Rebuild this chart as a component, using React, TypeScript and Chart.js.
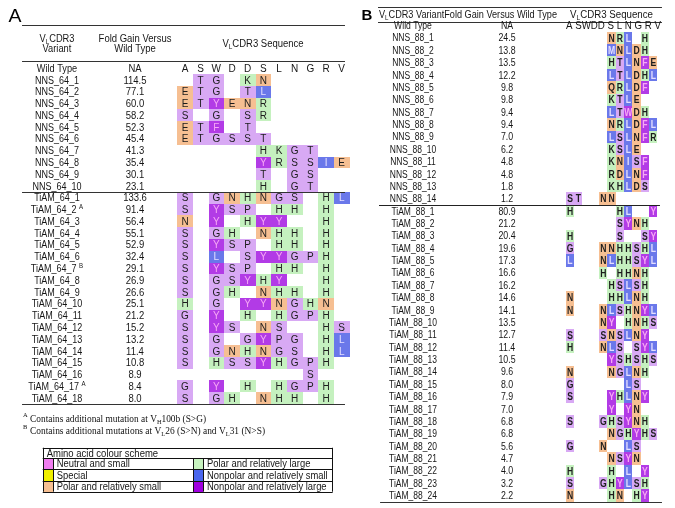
import React, { useEffect, useRef } from 'react';
import { Chart, registerables } from 'chart.js';

Chart.register(...registerables);

// ---------------- DATA ----------------
const positions = ['A', 'S', 'W', 'D', 'D', 'S', 'L', 'N', 'G', 'R', 'V'];

const variantsA = [
  'NNS_64_1', 'NNS_64_2', 'NNS_64_3', 'NNS_64_4', 'NNS_64_5', 'NNS_64_6', 'NNS_64_7', 'NNS_64_8', 'NNS_64_9', 'NNS_64_10',
  'TiAM_64_1', 'TiAM_64_2', 'TiAM_64_3', 'TiAM_64_4', 'TiAM_64_5', 'TiAM_64_6', 'TiAM_64_7', 'TiAM_64_8', 'TiAM_64_9',
  'TiAM_64_10', 'TiAM_64_11', 'TiAM_64_12', 'TiAM_64_13', 'TiAM_64_14', 'TiAM_64_15', 'TiAM_64_16', 'TiAM_64_17', 'TiAM_64_18',
];
const notesA = ['', '', '', '', '', '', '', '', '', '', '', 'A', '', '', '', '', 'B', '', '', '', '', '', '', '', '', '', 'A', ''];
const foldA = [114.5, 77.1, 60.0, 58.2, 52.3, 45.4, 41.3, 35.4, 30.1, 23.1,
  133.6, 91.4, 56.4, 55.1, 52.9, 32.4, 29.1, 26.9, 26.6, 25.1, 21.2, 15.2, 13.2, 11.4, 10.8, 8.9, 8.4, 8.0];
const seqA = [
  '.TG.KN.....', 'ETG.TL.....', 'ETYENR.....', 'S.G.SR.....', 'ETF.T......', 'ETGSST.....',
  '.....HKGT..', '.....YRSSIE', '.....T.GS..', '.....H.GT..',
  'S.GNHNGS.HL', 'S.YSP.HH.H.', 'N.Y.HYY..H.', 'S.GH.NHH.H.', 'S.YSP.HH.H.', 'S.L.SYYGPH.',
  'S.YSP.HH.H.', 'S.GSYHY..H.', 'S.GH.NHH.H.', 'H.G.YYNGHN.', 'G.Y.H.HGPH.', 'S.YS.NS..HS',
  'S.G.GYPG.HL', 'S.GNHNGS.HL', 'S.HSSYHGPH.', '........S..', 'G.Y.H.HGPH.', 'S.GH.NHH.H.',
];

const variantsB = [
  'NNS_88_1', 'NNS_88_2', 'NNS_88_3', 'NNS_88_4', 'NNS_88_5', 'NNS_88_6', 'NNS_88_7', 'NNS_88_8', 'NNS_88_9',
  'NNS_88_10', 'NNS_88_11', 'NNS_88_12', 'NNS_88_13', 'NNS_88_14',
  'TiAM_88_1', 'TiAM_88_2', 'TiAM_88_3', 'TiAM_88_4', 'TiAM_88_5', 'TiAM_88_6', 'TiAM_88_7', 'TiAM_88_8',
  'TiAM_88_9', 'TiAM_88_10', 'TiAM_88_11', 'TiAM_88_12', 'TiAM_88_13', 'TiAM_88_14', 'TiAM_88_15', 'TiAM_88_16',
  'TiAM_88_17', 'TiAM_88_18', 'TiAM_88_19', 'TiAM_88_20', 'TiAM_88_21', 'TiAM_88_22', 'TiAM_88_23', 'TiAM_88_24',
];
const foldB = [24.5, 13.8, 13.5, 12.2, 9.8, 9.8, 9.4, 9.4, 7.0, 6.2, 4.8, 4.8, 1.8, 1.2,
  80.9, 21.2, 20.4, 19.6, 17.3, 16.6, 16.2, 14.6, 14.1, 13.5, 12.7, 11.4, 10.5, 9.6, 8.0, 7.9, 7.0, 6.8, 6.8,
  5.6, 4.7, 4.0, 3.2, 2.2];
const seqB = [
  '.....NRL.H.', '.....MNLDH.', '.....HTLNFE', '.....LTLDHL', '.....QRLDF.', '.....KTLE..', '.....LTWDH.',
  '.....NRLDFL', '.....LSLNFR', '.....KSLE..', '.....KNISF.', '.....RDLNF.', '.....KHLDS.', 'ST..NN.....',
  'H.....HL..Y', '......SYNH.', 'H.....S..SY', 'G...NNHHSHL', 'L...NLHHSYL', '....H.HHNH.', '.....HSLSH.',
  'N....HHLNH.', 'N...NLSHNYL', '....NY.HNHS', 'S...SNSLNY.', 'H...NLS.SYL', '.....YSHSHS', 'N....NGLNH.',
  'G......LS..', 'S....YHLNY.', '.....Y.YN..', 'S...GHSYNH.', '.....NGHYHS', 'G...N..LS..', '.....NSYN..',
  'H....H.L.Y.', 'S...GHYLSH.', 'N....HN.HY.',
];

const legendLabels = [
  'Neutral and small', 'Polar and relatively large',
  'Special', 'Nonpolar and relatively small',
  'Polar and relatively small', 'Nonpolar and relatively large',
];

// ---------------- STYLE ----------------
const SANS = '"Liberation Sans", Arial, sans-serif';
const SERIF = '"Liberation Serif", "Times New Roman", serif';
const GROUP: Record<string, string> = {
  S: 'lilac', T: 'lilac', G: 'lilac', P: 'lilac',
  N: 'orange', E: 'orange', D: 'orange', Q: 'orange',
  H: 'green', K: 'green', R: 'green',
  L: 'blue', I: 'blue', M: 'blue',
  Y: 'purple', F: 'purple', W: 'purple',
};
const FILL: Record<string, string> = {
  lilac: '#D8A9F4', orange: '#F6BF92', green: '#C5F1BF', blue: '#6A78EA', purple: '#B23BE6',
};
const INK: Record<string, string> = {
  lilac: '#1c1c1c', orange: '#1c1c1c', green: '#1c1c1c', blue: '#E4DEFF', purple: '#F7A8F5',
};
const legendSwatches = ['#F07DF0', '#C8F4C0', '#F0F000', '#4A66EE', '#F6BF92', '#A000E0'];

// layout, in each panel's scale units (columns / rows)
const A = {
  label: [-10.85, -4.43], topY: -3.67, lineX: [-10.4, 10.21], hdr1: -2.56, hdr2: -1.69, seqHdrY: -2.11,
  hdrLineY: -0.61, nameX: -8.17, foldX: -3.19, seqHdrX: 4.98, sepY: 10.5, botY: 28.5,
  fnSupX: -10.34, fnX: -9.89, fn1: 29.69, fn2: 30.71,
  lg: { x0: -9.08, sw1: -8.44, t1: -8.19, x2: 0.49, sw2: 1.17, t2: 1.4, x1: 9.36, ys: [32.22, 33.12, 34.06, 35.0, 35.95] },
};
const B = {
  label: [-24.37, -0.9], topY: -1.5, lineX: [-23.05, 11.04], hdrY: -0.9, hdr1X: [-22.93, -1.56], hdr2X: [0, 9.96],
  hdrLineY: -0.31, nameX: -18.85, foldX: -7.56, wtX: [-0.48, 10.92], sepY: 14.5, sepX: [-22.93, 10.8],
  botY: 38.5, botX: [-22.8, 11.04],
};

type Seg = { t: string; sub?: boolean; sup?: boolean };
type TOpt = { size: number; family?: string; weight?: string; color?: string; align?: 'left' | 'center' | 'right'; sx?: number; width?: number };

function rich(ctx: CanvasRenderingContext2D, segs: Seg[], x: number, yc: number, o: TOpt) {
  const fam = o.family || SANS;
  const fontFor = (s: Seg) => `${o.weight || 'normal'} ${s.sub || s.sup ? o.size * 0.68 : o.size}px ${fam}`;
  ctx.save();
  let nat = 0;
  const ws = segs.map((s) => { ctx.font = fontFor(s); const w = ctx.measureText(s.t).width; nat += w; return w; });
  const sx = o.width ? o.width / nat : (o.sx ?? 1);
  const total = nat * sx;
  let x0 = o.align === 'center' ? x - total / 2 : o.align === 'right' ? x - total : x;
  const base = yc + o.size * 0.36;
  ctx.fillStyle = o.color || '#161616';
  ctx.textAlign = 'left';
  ctx.textBaseline = 'alphabetic';
  segs.forEach((s, i) => {
    ctx.font = fontFor(s);
    const dy = s.sub ? o.size * 0.25 : s.sup ? -o.size * 0.4 : 0;
    ctx.save();
    ctx.translate(x0, base + dy);
    ctx.scale(sx, 1);
    ctx.fillText(s.t, 0, 0);
    ctx.restore();
    x0 += ws[i] * sx;
  });
  ctx.restore();
}
const txt = (ctx: CanvasRenderingContext2D, t: string, x: number, y: number, o: TOpt) => rich(ctx, [{ t }], x, y, o);

function hline(ctx: CanvasRenderingContext2D, x0: number, x1: number, y: number, w = 1, c = '#222') {
  ctx.save();
  ctx.strokeStyle = c;
  ctx.lineWidth = w;
  const yy = Math.round(y) + (w % 2 ? 0.5 : 0);
  ctx.beginPath(); ctx.moveTo(x0, yy); ctx.lineTo(x1, yy); ctx.stroke();
  ctx.restore();
}
function vline(ctx: CanvasRenderingContext2D, x: number, y0: number, y1: number, c = '#222') {
  ctx.save();
  ctx.strokeStyle = c; ctx.lineWidth = 1;
  const xx = Math.round(x) + 0.5;
  ctx.beginPath(); ctx.moveTo(xx, y0); ctx.lineTo(xx, y1); ctx.stroke();
  ctx.restore();
}

function drawCells(ctx: CanvasRenderingContext2D, xs: any, ys: any, cells: any[], font: TOpt) {
  cells.forEach((c) => {
    const g = GROUP[c.aa] || 'lilac';
    const x0 = Math.round(xs.getPixelForValue(c.x - 0.5));
    const x1 = Math.round(xs.getPixelForValue(c.x + 0.5));
    const y0 = Math.round(ys.getPixelForValue(c.y - 0.5));
    const y1 = Math.round(ys.getPixelForValue(c.y + 0.5));
    ctx.fillStyle = FILL[g];
    ctx.fillRect(x0, y0, x1 - x0, y1 - y0);
  });
  cells.forEach((c) => {
    const g = GROUP[c.aa] || 'lilac';
    txt(ctx, c.aa, xs.getPixelForValue(c.x), ys.getPixelForValue(c.y), { ...font, align: 'center', color: INK[g] });
  });
}

const VL: Seg[] = [{ t: 'V' }, { t: 'L', sub: true }, { t: 'CDR3' }];

function drawPanelA(ctx: CanvasRenderingContext2D, xs: any, ys: any, cells: any[]) {
  const X = (v: number) => xs.getPixelForValue(v);
  const Y = (v: number) => ys.getPixelForValue(v);
  txt(ctx, 'A', X(A.label[0]), Y(A.label[1]), { size: 18, align: 'center', color: '#000', sx: 1.08 });
  hline(ctx, X(A.lineX[0]), X(A.lineX[1]), Y(A.topY), 1, '#333');
  rich(ctx, VL, X(A.nameX), Y(A.hdr1), { size: 10, align: 'center', sx: 0.93 });
  txt(ctx, 'Variant', X(A.nameX), Y(A.hdr2), { size: 10, align: 'center', sx: 0.93 });
  txt(ctx, 'Fold Gain Versus', X(A.foldX), Y(A.hdr1), { size: 10, align: 'center', sx: 0.95 });
  txt(ctx, 'Wild Type', X(A.foldX), Y(A.hdr2), { size: 10, align: 'center', sx: 0.95 });
  rich(ctx, [...VL, { t: ' Sequence' }], X(A.seqHdrX), Y(A.seqHdrY), { size: 10, align: 'center', sx: 0.95 });
  hline(ctx, X(A.lineX[0]), X(A.lineX[1]), Y(A.hdrLineY), 1, '#333');

  drawCells(ctx, xs, ys, cells, { size: 10 });

  // wild type row
  txt(ctx, 'Wild Type', X(A.nameX), Y(0), { size: 10, align: 'center', sx: 0.92 });
  txt(ctx, 'NA', X(A.foldX), Y(0), { size: 10, align: 'center', sx: 0.95 });
  positions.forEach((p, i) => txt(ctx, p, X(i), Y(0), { size: 10, align: 'center' }));

  variantsA.forEach((n, i) => {
    const segs: Seg[] = notesA[i] ? [{ t: n + ' ' }, { t: notesA[i], sup: true }] : [{ t: n }];
    rich(ctx, segs, X(A.nameX), Y(i + 1), { size: 10, align: 'center', sx: 0.9 });
    txt(ctx, foldA[i].toFixed(1), X(A.foldX), Y(i + 1), { size: 10, align: 'center', sx: 0.95 });
  });
  hline(ctx, X(A.lineX[0]), X(A.lineX[1]), Y(A.sepY), 1, '#333');
  hline(ctx, X(A.lineX[0]), X(A.lineX[1]), Y(A.botY), 1, '#333');

  // footnotes
  const fo: TOpt = { size: 10, family: SERIF, color: '#111' };
  txt(ctx, 'A', X(A.fnSupX), Y(A.fn1) - 3, { ...fo, size: 6.5 });
  rich(ctx, [{ t: 'Contains additional mutation at V' }, { t: 'H', sub: true }, { t: '100b (S>G)' }], X(A.fnX), Y(A.fn1), { ...fo, width: 176 });
  txt(ctx, 'B', X(A.fnSupX), Y(A.fn2) - 3, { ...fo, size: 6.5 });
  rich(ctx, [{ t: 'Contains additional mutations at V' }, { t: 'L', sub: true }, { t: '26 (S>N) and V' }, { t: 'L', sub: true }, { t: '31 (N>S)' }], X(A.fnX), Y(A.fn2), { ...fo, width: 235 });

  // colour scheme legend
  const lg = A.lg;
  const ys5 = lg.ys.map(Y);
  const x0 = X(lg.x0), x1 = X(lg.x1);
  ctx.save();
  for (let r = 0; r < 3; r++) {
    const ya = Math.round(ys5[r + 1]), yb = Math.round(ys5[r + 2]);
    ctx.fillStyle = legendSwatches[r * 2];
    ctx.fillRect(Math.round(x0), ya, Math.round(X(lg.sw1)) - Math.round(x0), yb - ya);
    ctx.fillStyle = legendSwatches[r * 2 + 1];
    ctx.fillRect(Math.round(X(lg.x2)), ya, Math.round(X(lg.sw2)) - Math.round(X(lg.x2)), yb - ya);
  }
  ctx.restore();
  lg.ys.forEach((v) => hline(ctx, x0, x1 + 1, Y(v), 1, '#111'));
  vline(ctx, x0, ys5[0], ys5[4], '#111');
  vline(ctx, x1, ys5[0], ys5[4], '#111');
  [lg.sw1, lg.x2, lg.sw2].forEach((v) => vline(ctx, X(v), ys5[1], ys5[4], '#111'));
  txt(ctx, 'Amino acid colour scheme', X(lg.x0) + 4, (ys5[0] + ys5[1]) / 2, { size: 10, sx: 0.95 });
  for (let r = 0; r < 3; r++) {
    const yc = (ys5[r + 1] + ys5[r + 2]) / 2;
    txt(ctx, legendLabels[r * 2], X(lg.t1), yc, { size: 10, sx: 0.94 });
    txt(ctx, legendLabels[r * 2 + 1], X(lg.t2), yc, { size: 10, sx: 0.94 });
  }
}

function drawPanelB(ctx: CanvasRenderingContext2D, xs: any, ys: any, cells: any[]) {
  const X = (v: number) => xs.getPixelForValue(v);
  const Y = (v: number) => ys.getPixelForValue(v);
  txt(ctx, 'B', X(B.label[0]), Y(B.label[1]), { size: 15, weight: 'bold', align: 'center', color: '#000' });
  hline(ctx, X(B.lineX[0]), X(B.lineX[1]), Y(B.topY), 1, '#333');
  rich(ctx, [...VL, { t: ' VariantFold Gain Versus Wild Type' }], X(B.hdr1X[0]), Y(B.hdrY), { size: 10, width: X(B.hdr1X[1]) - X(B.hdr1X[0]) });
  rich(ctx, [...VL, { t: ' Sequence' }], X(B.hdr2X[0]), Y(B.hdrY), { size: 10, width: X(B.hdr2X[1]) - X(B.hdr2X[0]) });
  hline(ctx, X(B.lineX[0]), X(B.lineX[1]), Y(B.hdrLineY), 1, '#333');

  drawCells(ctx, xs, ys, cells, { size: 10.5, weight: 'bold', sx: 0.82 });

  txt(ctx, 'Wild Type', X(B.nameX), Y(0), { size: 10, align: 'center', sx: 0.86 });
  txt(ctx, 'NA', X(B.foldX), Y(0), { size: 10, align: 'center', sx: 0.88 });
  txt(ctx, 'A SWDD S L N G R V', X(B.wtX[0]), Y(0), { size: 10, width: X(B.wtX[1]) - X(B.wtX[0]) });

  variantsB.forEach((n, i) => {
    txt(ctx, n, X(B.nameX), Y(i + 1), { size: 10, align: 'center', sx: 0.85 });
    txt(ctx, foldB[i].toFixed(1), X(B.foldX), Y(i + 1), { size: 10, align: 'center', sx: 0.88 });
  });
  hline(ctx, X(B.sepX[0]), X(B.sepX[1]), Y(B.sepY), 1, '#222');
  hline(ctx, X(B.botX[0]), X(B.botX[1]), Y(B.botY), 1, '#333');
}

const toCells = (rows: string[]) => {
  const out: { x: number; y: number; aa: string }[] = [];
  rows.forEach((s, r) => s.split('').forEach((ch, c) => { if (ch !== '.') out.push({ x: c, y: r + 1, aa: ch }); }));
  return out;
};

const tablePlugin = {
  id: 'cdr3Table',
  afterDatasetsDraw(chart: any) {
    const ctx = chart.ctx as CanvasRenderingContext2D;
    const s = chart.scales;
    drawPanelA(ctx, s.xA, s.yA, chart.data.datasets[0].data);
    drawPanelB(ctx, s.xB, s.yB, chart.data.datasets[1].data);
  },
};

export default function App() {
  const ref = useRef<HTMLCanvasElement>(null);
  useEffect(() => {
    const chart = new Chart(ref.current as HTMLCanvasElement, {
      type: 'scatter',
      data: {
        datasets: [
          { label: 'Panel A', data: toCells(seqA) as any, xAxisID: 'xA', yAxisID: 'yA', pointRadius: 0, pointHoverRadius: 0 },
          { label: 'Panel B', data: toCells(seqB) as any, xAxisID: 'xB', yAxisID: 'yB', pointRadius: 0, pointHoverRadius: 0 },
        ],
      },
      options: {
        animation: false,
        responsive: false,
        devicePixelRatio: 1,
        events: [],
        layout: { padding: 0 },
        plugins: { legend: { display: false }, tooltip: { enabled: false } },
        scales: {
          xA: { type: 'linear', axis: 'x', position: 'bottom', display: false, min: -11.806, max: 31.27 },
          yA: { type: 'linear', axis: 'y', position: 'left', display: false, reverse: true, min: -5.789, max: 37.334 },
          xB: { type: 'linear', axis: 'x', position: 'bottom', display: false, min: -68.43, max: 12.605 },
          yB: { type: 'linear', axis: 'y', position: 'left', display: false, reverse: true, min: -2.061, max: 39.006 },
        },
      } as any,
      plugins: [tablePlugin],
    });
    return () => chart.destroy();
  }, []);
  return (
    <div style={{ position: 'absolute', left: 0, top: 0, width: 675, height: 508, background: '#fff' }}>
      <canvas ref={ref} width={675} height={508} style={{ display: 'block', width: 675, height: 508 }} />
    </div>
  );
}
